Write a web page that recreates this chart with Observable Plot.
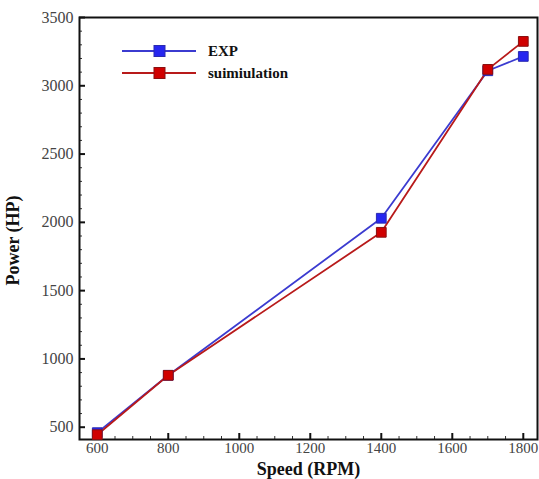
<!DOCTYPE html>
<html>
<head>
<meta charset="utf-8">
<script src="https://cdn.jsdelivr.net/npm/d3@7"></script>
<script src="https://cdn.jsdelivr.net/npm/@observablehq/plot@0.6"></script>
<style>
  html, body { margin: 0; padding: 0; background: #fff; }
  #wrap { position: relative; width: 539px; height: 479px; }
  #chart svg, #chart svg text { font-family: "Liberation Serif", "Times New Roman", Times, "DejaVu Serif", serif !important; }
  #legend { position: absolute; left: 120px; top: 40px; font-family: "Liberation Serif", "Times New Roman", Times, "DejaVu Serif", serif; font-weight: bold; font-size: 15px; color: #111; }
  #legend .row { display: flex; align-items: center; height: 22px; }
  #legend svg { margin-right: 12px; }
</style>
</head>
<body>
<div id="wrap">
  <div id="chart"></div>
  <div id="legend"></div>
</div>
<script>
const speed = [600, 800, 1400, 1700, 1800];
const expPower = [460, 880, 2030, 3110, 3215];
const simPower = [445, 880, 1927, 3120, 3325];
const seriesNames = ["EXP", "suimiulation"];
const xMajor = [600, 800, 1000, 1200, 1400, 1600, 1800];
const xMinor = [650,700,750,850,900,950,1050,1100,1150,1250,1300,1350,1450,1500,1550,1650,1700,1750];
const yMajor = [500, 1000, 1500, 2000, 2500, 3000, 3500];
const yMinor = [600,700,800,900,1100,1200,1300,1400,1600,1700,1800,1900,2100,2200,2300,2400,2600,2700,2800,2900,3100,3200,3300,3400];

const lineColors = ["#3b3bd0", "#b81a1a"];
const markColors = ["#2626f0", "#d00000"];
const markStroke = ["#2a2ab0", "#8a1010"];

const data = [];
speed.forEach((s, i) => data.push({series: seriesNames[0], speed: s, power: expPower[i]}));
speed.forEach((s, i) => data.push({series: seriesNames[1], speed: s, power: simPower[i]}));

const font = '"Liberation Serif", "Times New Roman", Times, "DejaVu Serif", serif';
const fmt = d3.format("d");

const chart = Plot.plot({
  width: 539,
  height: 479,
  marginLeft: 79,
  marginRight: 2,
  marginTop: 17,
  marginBottom: 40,
  style: { fontFamily: font, fontSize: "15px", color: "#222", background: "#fff" },
  x: { domain: [550, 1840] },
  y: { domain: [410, 3500] },
  marks: [
    Plot.axisX({ ticks: xMajor, tickFormat: fmt, tickSize: 0, tickPadding: 3, label: null, fontSize: 15, fill: "#444" }),
    Plot.axisX({ ticks: xMajor, tickSize: -6, text: null, label: null, strokeWidth: 2, stroke: "#111" }),
    Plot.axisX({ ticks: xMinor, tickSize: -3, text: null, label: null, strokeWidth: 1, stroke: "#333" }),
    Plot.axisY({ ticks: yMajor, tickFormat: fmt, tickSize: 0, tickPadding: 6, label: null, fontSize: 16, fill: "#444" }),
    Plot.axisY({ ticks: yMajor, tickSize: -6, text: null, label: null, strokeWidth: 2, stroke: "#111" }),
    Plot.axisY({ ticks: yMinor, tickSize: -3, text: null, label: null, strokeWidth: 1, stroke: "#333" }),
    Plot.frame({ stroke: "#111", strokeWidth: 2 }),
    Plot.line(data.filter(d => d.series === seriesNames[0]), { x: "speed", y: "power", stroke: lineColors[0], strokeWidth: 1.8 }),
    Plot.line(data.filter(d => d.series === seriesNames[1]), { x: "speed", y: "power", stroke: lineColors[1], strokeWidth: 1.8 }),
    Plot.dot(data.filter(d => d.series === seriesNames[0]), { x: "speed", y: "power", symbol: "square", r: 5.5, fill: markColors[0], stroke: markStroke[0], strokeWidth: 1 }),
    Plot.dot(data.filter(d => d.series === seriesNames[1]), { x: "speed", y: "power", symbol: "square", r: 5.5, fill: markColors[1], stroke: markStroke[1], strokeWidth: 1 }),
    Plot.text(["Speed (RPM)"], { frameAnchor: "bottom", dy: 35, text: d => d, fontSize: 18, fontWeight: "bold", fill: "#111" }),
    Plot.text(["Power (HP)"], { frameAnchor: "left", textAnchor: "middle", dx: -66, dy: 12, rotate: -90, text: d => d, fontSize: 18, fontWeight: "bold", fill: "#111" })
  ]
});
document.getElementById("chart").appendChild(chart);

const legend = document.getElementById("legend");
seriesNames.forEach((name, i) => {
  const row = document.createElement("div");
  row.className = "row";
  row.innerHTML = `<svg width="76" height="14"><line x1="2" x2="76" y1="7" y2="7" stroke="${lineColors[i]}" stroke-width="1.8"/><rect x="34" y="1.5" width="11" height="11" fill="${markColors[i]}" stroke="${markStroke[i]}"/></svg><span>${name}</span>`;
  legend.appendChild(row);
});
</script>
</body>
</html>
